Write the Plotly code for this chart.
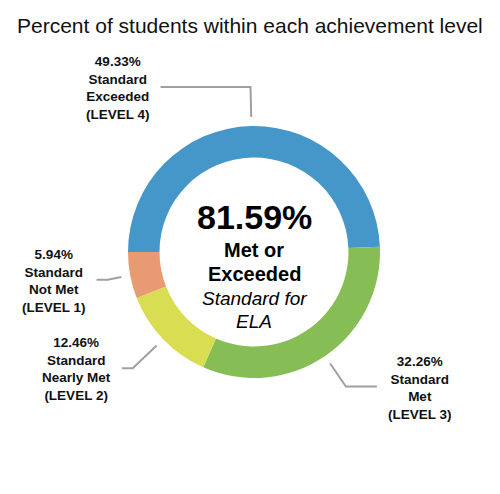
import math
import plotly.graph_objects as go

# data, in the order the slices are drawn (clockwise from 9 o'clock)
levels = ["LEVEL 4", "LEVEL 3", "LEVEL 2", "LEVEL 1"]
names = ["Standard<br>Exceeded", "Standard<br>Met", "Standard<br>Nearly Met", "Standard<br>Not Met"]
percents = [49.33, 32.26, 12.46, 5.94]
colors = ["#4596C9", "#86BD54", "#D8DD52", "#E89B72"]

W, H = 500, 494
cx, cy, R = 254, 252, 126          # donut centre / outer radius in px
start = 270                        # first slice starts at 9 o'clock

# leader-line styling per slice: elbow radius, horizontal run (+right / -left)
elbow_r = [165, 163, 168, 149]
run = [-90, 31, -11, -11]

fig = go.Figure()
fig.add_trace(go.Pie(values=percents, labels=levels, sort=False, direction="clockwise",
                     rotation=start, hole=0.75, textinfo="none", hoverinfo="label+percent",
                     marker=dict(colors=colors, line=dict(width=0)), showlegend=False,
                     domain=dict(x=[(cx - R) / W, (cx + R) / W],
                                 y=[(H - cy - R) / H, (H - cy + R) / H])))

total = sum(percents)
ann = []
acc = 0
for i, p in enumerate(percents):
    mid = math.radians(start + (acc + p / 2) / total * 360)
    acc += p
    sx, sy = math.sin(mid), -math.cos(mid)
    x0, y0 = cx + 135 * sx, cy + 135 * sy
    x1, y1 = cx + elbow_r[i] * sx, cy + elbow_r[i] * sy
    x2 = x1 + run[i]
    fig.add_trace(go.Scatter(x=[x0, x1, x2], y=[y0, y1, y1], mode="lines",
                             line=dict(color="#A0A0A0", width=2), hoverinfo="skip",
                             showlegend=False))
    side = "left" if run[i] > 0 else "right"
    ann.append(dict(x=x2 + (9 if run[i] > 0 else -9), y=y1 + 1, xref="x", yref="y",
                    xanchor=side, yanchor="middle", align="center", showarrow=False,
                    font=dict(size=13.5, color="#111"),
                    text=f"<b>{p:.2f}%<br>{names[i]}<br>({levels[i]})</b>"))

met = percents[0] + percents[1]
ctr = [(f"<b>{met:.2f}%</b>", 217, 34, "normal"),
       ("<b>Met or</b>", 250, 20, "normal"),
       ("<b>Exceeded</b>", 274, 20, "normal"),
       ("Standard for", 298, 19, "italic"),
       ("ELA", 321, 19, "italic")]
for t, y, s, st in ctr:
    ann.append(dict(x=cx, y=y, xref="x", yref="y", showarrow=False, text=t,
                    font=dict(size=s, color="#000", style=st)))

ann.append(dict(x=250, y=25, xref="x", yref="y", showarrow=False,
                text="Percent of students within each achievement level",
                font=dict(size=21, color="#111")))

fig.update_layout(width=W, height=H, margin=dict(l=0, r=0, t=0, b=0),
                  paper_bgcolor="white", plot_bgcolor="white",
                  font=dict(family="Arial, Liberation Sans, sans-serif"),
                  xaxis=dict(range=[0, W], visible=False, fixedrange=True),
                  yaxis=dict(range=[H, 0], visible=False, fixedrange=True),
                  annotations=ann)

# drop the default 8px body margin so the figure sits flush with the window
fig.write_html("out.html", config={"displayModeBar": False},
               post_script="document.body.style.margin='0';")
